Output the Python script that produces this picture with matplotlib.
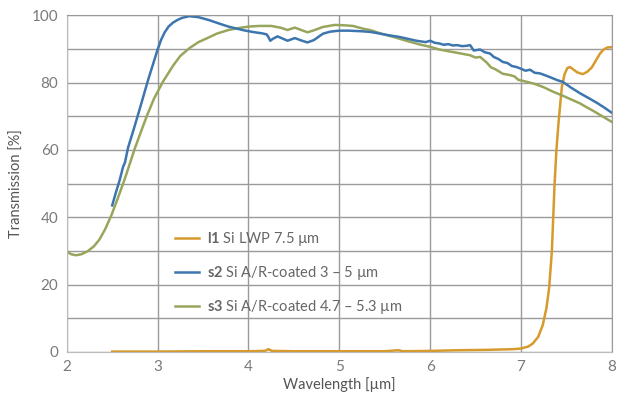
import matplotlib
matplotlib.use("Agg")
import matplotlib.pyplot as plt

plt.rcParams["font.family"] = ["Lato", "DejaVu Sans"]
plt.rcParams["mathtext.fontset"] = "custom"
plt.rcParams["mathtext.rm"] = "Lato"
plt.rcParams["mathtext.bf"] = "Lato:bold"

# l1 Si LWP 7.5 um
l1_wl = [2.50, 3.00, 3.50, 4.00, 4.18, 4.22, 4.26, 4.50, 5.00, 5.50, 5.65, 5.70,
         6.00, 6.30, 6.60, 6.90, 7.00, 7.08, 7.13, 7.19, 7.24, 7.28, 7.31, 7.34,
         7.37, 7.39, 7.41, 7.43, 7.45, 7.48, 7.51, 7.54, 7.57, 7.62, 7.68, 7.73,
         7.78, 7.83, 7.87, 7.91, 7.95, 8.00]
l1_t = [0.1, 0.1, 0.2, 0.2, 0.3, 0.8, 0.3, 0.2, 0.2, 0.2, 0.5, 0.2,
        0.3, 0.5, 0.6, 0.8, 1.0, 1.6, 2.5, 4.5, 8.0, 13.0, 19.0, 30.0,
        50.0, 60.0, 67.0, 73.0, 78.7, 82.5, 84.3, 84.6, 84.0, 83.0, 82.5, 83.2,
        84.5, 86.8, 88.6, 89.8, 90.4, 90.5]

# s2 Si A/R-coated 3-5 um
s2_wl = [2.50, 2.54, 2.58, 2.62, 2.64, 2.675, 2.73, 2.785, 2.84, 2.89, 2.95, 3.00,
         3.04, 3.08, 3.12, 3.17, 3.22, 3.27, 3.35, 3.45, 3.57, 3.70, 3.78, 3.95,
         4.05, 4.15, 4.20, 4.22, 4.24, 4.27, 4.32, 4.38, 4.43, 4.51, 4.58, 4.65,
         4.72, 4.82, 4.90, 5.00, 5.10, 5.26, 5.35, 5.45, 5.55, 5.65, 5.75, 5.85,
         5.95, 6.00, 6.05, 6.10, 6.15, 6.20, 6.25, 6.30, 6.35, 6.40, 6.44, 6.48,
         6.55, 6.60, 6.66, 6.70, 6.75, 6.80, 6.85, 6.90, 6.95, 6.99, 7.05, 7.10,
         7.15, 7.21, 7.30, 7.40, 7.46, 7.55, 7.65, 7.75, 7.84, 7.92, 8.00]
s2_t = [43.5, 47.3, 50.8, 55.0, 56.2, 60.7, 65.5, 70.5, 75.6, 80.3, 85.5, 89.8,
        92.8, 95.0, 96.6, 97.8, 98.6, 99.2, 99.7, 99.4, 98.5, 97.3, 96.6, 95.5,
        95.0, 94.6, 94.3, 93.5, 92.4, 93.0, 93.7, 93.0, 92.4, 93.2, 92.5, 91.9,
        92.6, 94.5, 95.1, 95.4, 95.4, 95.2, 95.0, 94.5, 94.0, 93.6, 93.0, 92.4,
        92.0, 92.4, 91.8, 91.6, 91.2, 91.4, 91.0, 91.1, 90.8, 90.9, 91.1, 89.5,
        89.8, 89.0, 88.6, 87.6, 87.0, 86.1, 85.8, 84.9, 84.6, 84.2, 83.5, 83.8,
        82.9, 82.7, 81.8, 80.7, 80.2, 78.5, 76.8, 75.3, 73.9, 72.5, 71.0]

# s3 Si A/R-coated 4.7-5.3 um
s3_wl = [2.00, 2.05, 2.10, 2.16, 2.23, 2.30, 2.36, 2.42, 2.49, 2.56, 2.64, 2.75,
         2.88, 2.96, 3.06, 3.17, 3.25, 3.35, 3.45, 3.54, 3.65, 3.78, 3.90, 4.00,
         4.12, 4.25, 4.35, 4.43, 4.51, 4.58, 4.65, 4.72, 4.82, 4.95, 5.05, 5.15,
         5.26, 5.35, 5.45, 5.60, 5.75, 5.90, 6.00, 6.10, 6.20, 6.30, 6.44, 6.50,
         6.55, 6.62, 6.67, 6.72, 6.80, 6.88, 6.93, 6.97, 7.05, 7.15, 7.25, 7.35,
         7.45, 7.55, 7.65, 7.72, 7.80, 7.90, 8.00]
s3_t = [29.8, 29.0, 28.7, 29.0, 29.9, 31.4, 33.4, 36.3, 40.5, 45.5, 51.5, 60.5,
        70.0, 75.2, 80.3, 85.0, 87.9, 90.2, 92.0, 93.1, 94.5, 95.6, 96.2, 96.6,
        96.8, 96.8, 96.3, 95.6, 96.3, 95.6, 94.9, 95.5, 96.5, 97.1, 97.0, 96.8,
        96.0, 95.5, 94.6, 93.5, 92.3, 91.2, 90.6, 89.8, 89.3, 88.8, 88.1, 87.4,
        87.6, 86.0, 84.5, 83.9, 82.6, 82.2, 81.8, 80.8, 80.3, 79.6, 78.6, 77.3,
        76.2, 75.0, 73.8, 72.7, 71.5, 69.9, 68.3]

labels = [r"$\mathbf{l1}$ Si LWP 7.5 µm",
          r"$\mathbf{s2}$ Si A/R-coated 3 – 5 µm",
          r"$\mathbf{s3}$ Si A/R-coated 4.7 – 5.3 µm"]
colors = ["#d69a2d", "#3d75ae", "#98a65c"]

fig = plt.figure(figsize=(6.36, 3.99), dpi=100)
ax = fig.add_axes([0.105, 0.118, 0.857, 0.844])

ax.plot(l1_wl, l1_t, color=colors[0], lw=1.8, label=labels[0])
ax.plot(s3_wl, s3_t, color=colors[2], lw=1.8, label=labels[2])
ax.plot(s2_wl, s2_t, color=colors[1], lw=1.8, label=labels[1])

ax.set_xlim(2, 8)
ax.set_ylim(0, 100)
ax.set_xticks(range(2, 9))
ax.set_yticks(range(0, 101, 20))
ax.set_yticks(range(0, 101, 10), minor=True)
ax.grid(True, which="both", color="#9a9a9a", lw=1.0)
ax.set_axisbelow(True)
ax.tick_params(which="both", length=0, labelsize=11, labelcolor="#7a7a7a", pad=6)
for s in ax.spines.values():
    s.set_color("#9a9a9a")
ax.spines["left"].set_color("#bbbbbb")
ax.spines["bottom"].set_color("#bbbbbb")

ax.set_xlabel("Wavelength [µm]", fontsize=10.5, color="#555555", labelpad=2)
ax.set_ylabel("Transmission [%]", fontsize=10.5, color="#555555", labelpad=6)

h, l = ax.get_legend_handles_labels()
order = [0, 2, 1]
leg = ax.legend([h[i] for i in order], [l[i] for i in order], loc="upper left",
                bbox_to_anchor=(0.175, 0.40), frameon=False, fontsize=10.5,
                labelspacing=1.1, handlelength=1.6, handletextpad=0.6)
for t in leg.get_texts():
    t.set_color("#666666")

fig.savefig("out.png", dpi=100)
